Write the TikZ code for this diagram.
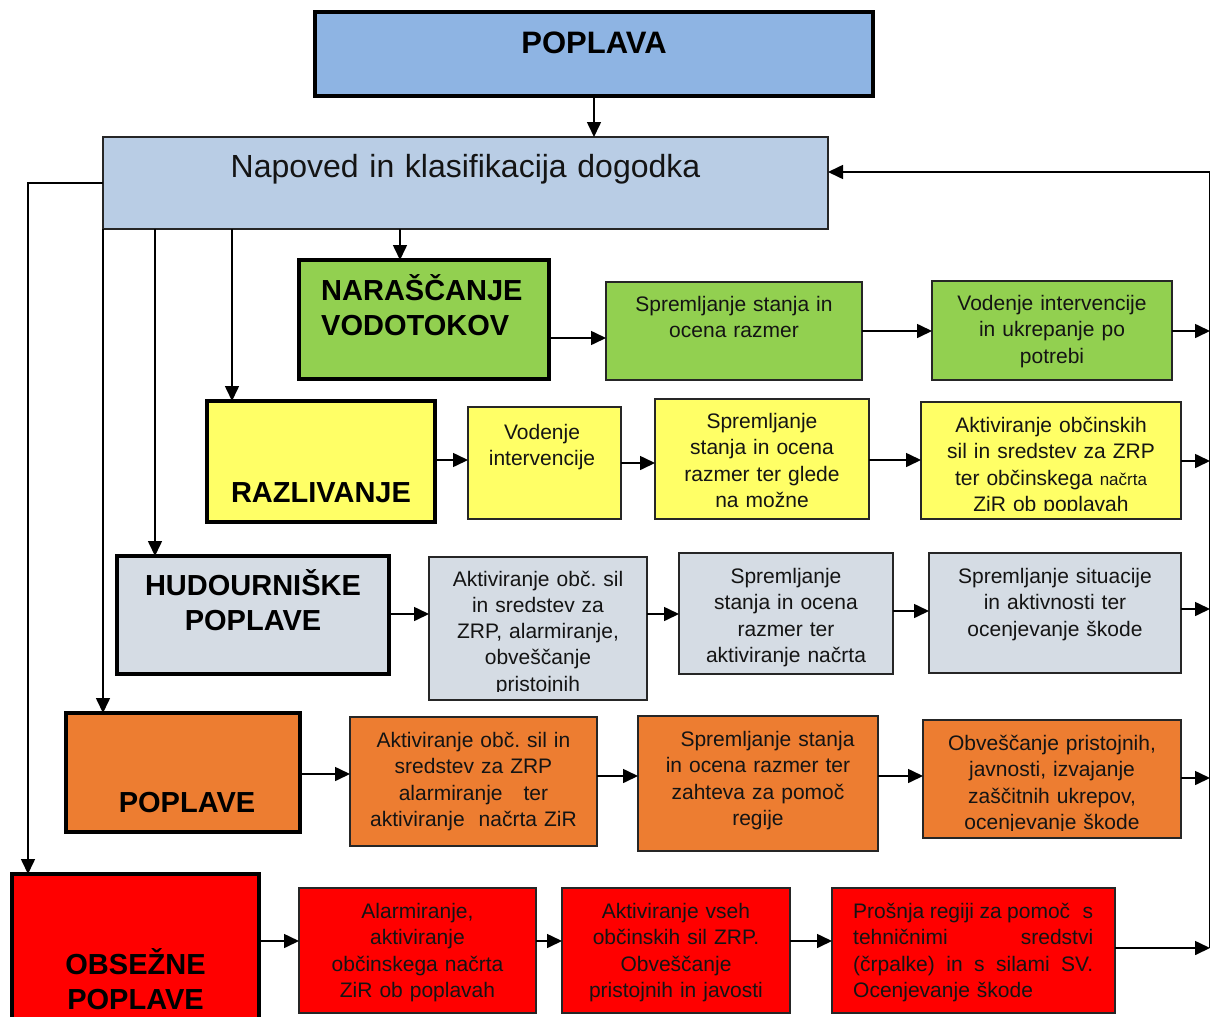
\documentclass[tikz,border=0pt]{standalone}
\usepackage{fontspec}
\setmainfont{Liberation Sans}
\usetikzlibrary{arrows.meta,calc}
\definecolor{cTop}{HTML}{8EB4E3}
\definecolor{cNap}{HTML}{B9CDE5}
\definecolor{cGreen}{HTML}{92D050}
\definecolor{cYellow}{HTML}{FFFF66}
\definecolor{cGrey}{HTML}{D5DCE4}
\definecolor{cOrange}{HTML}{ED7D31}
\definecolor{cRed}{HTML}{FF0000}
\frenchspacing
\begin{document}
\begin{tikzpicture}[x=1pt,y=-1pt,
  bx/.style={draw=black!85, line width=1.6pt, inner sep=0pt, outer sep=0pt, anchor=north west},
  tbx/.style={draw=black, line width=4pt, inner sep=0pt, outer sep=0pt, anchor=north west},
  txt/.style={inner sep=0pt, align=center, anchor=base, text=black!92, font=\frenchspacing\fontsize{21}{26.3}\selectfont},
  ttl/.style={inner sep=0pt, align=center, anchor=base, text=black, font=\bfseries\fontsize{29}{35}\selectfont},
  arr/.style={line width=1.6pt, -{Triangle[length=15pt,width=14pt]}},
  ln/.style={line width=1.6pt}]
\useasboundingbox (0,0) rectangle (1210,1017);
\begin{scope}
\clip (0,0) rectangle (1210,1017);
% top
\node[tbx, fill=cTop, minimum width=558pt, minimum height=84pt] (top) at (315,12) {};
\node[ttl, font=\bfseries\fontsize{31}{36}\selectfont, text width=558pt] (topT) at (594,53) {POPLAVA};
\node[bx, fill=cNap, minimum width=725pt, minimum height=92pt] (nap) at (103,137) {};
\node[txt, font=\fontsize{32}{38}\selectfont, text width=725pt] (napT) at (465.5,177) {Napoved in klasifikacija dogodka};
% green row
\node[tbx, fill=cGreen, minimum width=250pt, minimum height=119pt] (n1) at (299,260) {};
\node[ttl, align=left, anchor=base west, text width=230pt] (n1T) at (321,300) {NARAŠČANJE\\VODOTOKOV};
\node[bx, fill=cGreen, minimum width=256pt, minimum height=98pt] (g1) at (606,282) {};
\node[txt, text width=256pt] (g1T) at (734,311.5) {Spremljanje stanja in\\ocena razmer};
\node[bx, fill=cGreen, minimum width=240pt, minimum height=99pt] (g2) at (932,281) {};
\node[txt, text width=240pt] (g2T) at (1052,310.5) {Vodenje intervencije\\in ukrepanje po\\potrebi};
% yellow row
\node[tbx, fill=cYellow, minimum width=228pt, minimum height=121pt] (n2) at (207,401) {};
\node[ttl, text width=228pt] (n2T) at (321,502) {RAZLIVANJE};
\node[bx, fill=cYellow, minimum width=153pt, minimum height=112pt] (y1) at (468,407) {};
\node[txt, text width=153pt] (y1T) at (542,439) {Vodenje\\intervencije};
\node[bx, fill=cYellow, minimum width=214pt, minimum height=120pt] (y2) at (655,399) {};
\node[txt, text width=214pt] (y2T) at (762,428.5) {Spremljanje\\stanja in ocena\\razmer ter glede\\na možne};
\node[bx, fill=cYellow, minimum width=260pt, minimum height=117pt] (y3) at (921,402) {};
\begin{scope}
\clip (921,402) rectangle (1181,510);
\node[txt, text width=260pt] (y3T) at (1051,432.5) {Aktiviranje občinskih\\sil in sredstev za ZRP\\ter občinskega {\fontsize{17}{20}\selectfont načrta}\\ZiR ob poplavah};
\end{scope}
% grey row
\node[tbx, fill=cGrey, minimum width=272pt, minimum height=118pt] (n3) at (117,556) {};
\node[ttl, text width=272pt] (n3T) at (253,595) {HUDOURNIŠKE\\POPLAVE};
\node[bx, fill=cGrey, minimum width=218pt, minimum height=143pt] (h1) at (429,557) {};
\begin{scope}
\clip (429,557) rectangle (647,691);
\node[txt, text width=218pt] (h1T) at (538,586) {Aktiviranje obč. sil\\in sredstev za\\ZRP, alarmiranje,\\obveščanje\\pristojnih};
\end{scope}
\node[bx, fill=cGrey, minimum width=214pt, minimum height=121pt] (h2) at (679,553) {};
\node[txt, text width=214pt] (h2T) at (786,583.5) {Spremljanje\\stanja in ocena\\razmer ter\\aktiviranje načrta};
\node[bx, fill=cGrey, minimum width=252pt, minimum height=120pt] (h3) at (929,553) {};
\node[txt, text width=252pt] (h3T) at (1055,583.5) {Spremljanje situacije\\in aktivnosti ter\\ocenjevanje škode};
% orange row
\node[tbx, fill=cOrange, minimum width=234pt, minimum height=119pt] (n4) at (66,713) {};
\node[ttl, text width=234pt] (n4T) at (187,812) {POPLAVE};
\node[bx, fill=cOrange, minimum width=247pt, minimum height=129pt] (o1) at (350,717) {};
\node[txt, text width=247pt] (o1T) at (473.5,747.5) {Aktiviranje obč. sil in\\sredstev za ZRP\\alarmiranje\ \ \ ter\\aktiviranje\ \ načrta ZiR};
\node[bx, fill=cOrange, minimum width=240pt, minimum height=135pt] (o2) at (638,716) {};
\node[txt, text width=240pt] (o2T) at (758,746.5) {\hspace*{19pt}Spremljanje stanja\\in ocena razmer ter\\zahteva za pomoč\\regije};
\node[bx, fill=cOrange, minimum width=258pt, minimum height=118pt] (o3) at (923,720) {};
\begin{scope}
\clip (923,720) rectangle (1181,830);
\node[txt, text width=258pt] (o3T) at (1052,750.5) {Obveščanje pristojnih,\\javnosti, izvajanje\\zaščitnih ukrepov,\\ocenjevanje škode};
\end{scope}
% red row
\node[tbx, fill=cRed, minimum width=247pt, minimum height=170pt] (n5) at (12,874) {};
\node[ttl, text width=247pt] (n5T) at (135.5,974) {OBSEŽNE\\POPLAVE};
\node[bx, fill=cRed, minimum width=237pt, minimum height=125pt] (r1) at (299,888) {};
\node[txt, text width=237pt] (r1T) at (417.5,918.5) {Alarmiranje,\\aktiviranje\\občinskega načrta\\ZiR ob poplavah};
\node[bx, fill=cRed, minimum width=228pt, minimum height=125pt] (r2) at (562,888) {};
\node[txt, text width=228pt] (r2T) at (676,918.5) {Aktiviranje vseh\\občinskih sil ZRP.\\Obveščanje\\pristojnih in javosti};
\node[bx, fill=cRed, minimum width=283pt, minimum height=125pt] (r3) at (832,888) {};
\node[txt, align=left, anchor=base west, text width=240pt] (r3T) at (853,918.5) {\makebox[240pt][l]{Prošnja\hfill regiji\hfill za\hfill pomoč\ \hfill s}\\\makebox[240pt][l]{tehničnimi\hfill sredstvi}\\\makebox[240pt][l]{(črpalke)\hfill in\hfill s\hfill silami\hfill SV.}\\Ocenjevanje škode};
% coordinates
\coordinate (cx1) at (400,0);
\coordinate (cx2) at (232,0);
\coordinate (cx3) at (155,0);
\coordinate (cx4) at (103,0);
\coordinate (lx) at (28,183);
\coordinate (e1) at (1210,331);
\coordinate (e2) at (1210,461);
\coordinate (e3) at (1210,609);
\coordinate (e4) at (1210,778);
\coordinate (vB) at (1210,948);
\coordinate (vT) at (1210,172);
% vertical connectors
\draw[arr] (top.south) -- (nap.north -| top.south);
\draw[arr] (nap.south -| cx1) -- (n1.north -| cx1);
\draw[arr] (nap.south -| cx2) -- (n2.north -| cx2);
\draw[arr] (nap.south -| cx3) -- (n3.north -| cx3);
\draw[arr] (nap.south -| cx4) -- (n4.north -| cx4);
\draw[arr] (nap.west |- lx) -| (n5.north -| lx);
% row connectors
\draw[arr] (n1.east |- 0,338) -- (g1.west |- 0,338);
\draw[arr] (g1.east |- 0,331) -- (g2.west |- 0,331);
\draw[arr] (g2.east |- e1) -- (e1);
\draw[arr] (n2.east |- 0,460) -- (y1.west |- 0,460);
\draw[arr] (y1.east |- 0,463) -- (y2.west |- 0,463);
\draw[arr] (y2.east |- 0,460) -- (y3.west |- 0,460);
\draw[arr] (y3.east |- e2) -- (e2);
\draw[arr] (n3.east |- 0,614) -- (h1.west |- 0,614);
\draw[arr] (h1.east |- 0,614) -- (h2.west |- 0,614);
\draw[arr] (h2.east |- 0,611) -- (h3.west |- 0,611);
\draw[arr] (h3.east |- e3) -- (e3);
\draw[arr] (n4.east |- 0,774) -- (o1.west |- 0,774);
\draw[arr] (o1.east |- 0,776) -- (o2.west |- 0,776);
\draw[arr] (o2.east |- 0,776) -- (o3.west |- 0,776);
\draw[arr] (o3.east |- e4) -- (e4);
\draw[arr] (n5.east |- 0,941) -- (r1.west |- 0,941);
\draw[arr] (r1.east |- 0,941) -- (r2.west |- 0,941);
\draw[arr] (r2.east |- 0,941) -- (r3.west |- 0,941);
\draw[arr] (r3.east |- vB) -- (vB);
\draw[arr] (vB) -- (vT) -- (nap.east |- vT);
\end{scope}
\end{tikzpicture}
\end{document}
